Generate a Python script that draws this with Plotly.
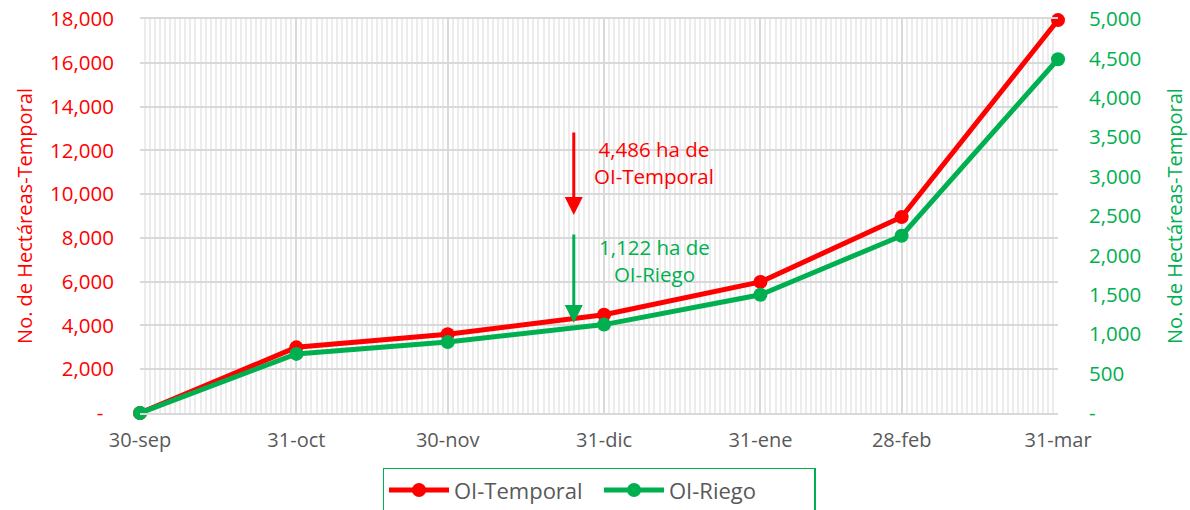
import plotly.graph_objects as go

dates = ["2022-09-30", "2022-10-31", "2022-11-30", "2022-12-31", "2023-01-31", "2023-02-28", "2023-03-31"]
date_labels = ["30-sep", "31-oct", "30-nov", "31-dic", "31-ene", "28-feb", "31-mar"]
temporal = [0, 3000, 3600, 4486, 5990, 8950, 17950]
riego = [0, 750, 900, 1122, 1500, 2250, 4490]

left_ticks = list(range(0, 18001, 2000))
left_text = ["-  "] + [f"{v:,}" for v in left_ticks[1:]]
right_ticks = list(range(0, 5001, 500))
right_text = ["-"] + [f"{v:,}" for v in right_ticks[1:]]

RED = "#FF0000"
GREEN = "#00B050"
GRAY = "#595959"
FONT = "Open Sans"

fig = go.Figure()
fig.add_trace(go.Scatter(x=dates, y=temporal, name="OI-Temporal", mode="lines+markers",
                         line=dict(color=RED, width=5), marker=dict(size=14, color=RED),
                         yaxis="y", cliponaxis=False))
fig.add_trace(go.Scatter(x=dates, y=riego, name="OI-Riego", mode="lines+markers",
                         line=dict(color=GREEN, width=5), marker=dict(size=14, color=GREEN),
                         yaxis="y2", cliponaxis=False))

# arrows
fig.add_annotation(x="2022-12-25", y=9050, ax="2022-12-25", ay=12880, xref="x", yref="y",
                   axref="x", ayref="y", showarrow=True, arrowhead=2, arrowsize=1.2,
                   arrowwidth=3, arrowcolor=RED, text="")
fig.add_annotation(x="2022-12-25", y=4110, ax="2022-12-25", ay=8220, xref="x", yref="y",
                   axref="x", ayref="y", showarrow=True, arrowhead=2, arrowsize=1.2,
                   arrowwidth=3, arrowcolor=GREEN, text="")
fig.add_annotation(x="2023-01-10", y=11450, xref="x", yref="y", showarrow=False,
                   text="4,486 ha de<br>OI-Temporal", font=dict(family=FONT, size=20.5, color=RED),
                   align="center")
fig.add_annotation(x="2023-01-10", y=6970, xref="x", yref="y", showarrow=False,
                   text="1,122 ha de<br>OI-Riego", font=dict(family=FONT, size=20.5, color=GREEN),
                   align="center")

fig.update_layout(
    width=1190, height=510,
    margin=dict(l=140, r=132, t=19, b=97, autoexpand=False),
    paper_bgcolor="white", plot_bgcolor="white",
    font=dict(family=FONT, size=19, color=GRAY),
    showlegend=True,
    legend=dict(orientation="h", x=0.5, xanchor="center", y=-0.139, yanchor="top",
                bordercolor=GREEN, borderwidth=1.5, font=dict(size=22, color=GRAY),
                itemwidth=60, entrywidth=140),
    xaxis=dict(type="date", range=["2022-09-30", "2023-03-31"], automargin=False,
               tickmode="array", tickvals=dates, ticktext=date_labels,
               showgrid=True, gridcolor="#d9d9d9", gridwidth=2,
               minor=dict(dtick=86400000, tick0="2022-09-30", showgrid=True,
                          gridcolor="#ececec", gridwidth=2),
               showline=True, linecolor="#d9d9d9", linewidth=1.5, mirror=True,
               tickfont=dict(size=20, color=GRAY), ticklabelstandoff=8,
               ticklabeloverflow="allow", zeroline=False),
    yaxis=dict(range=[0, 18000], tickmode="array", tickvals=left_ticks, ticktext=left_text,
               automargin=False,
               showgrid=True, gridcolor="#d9d9d9", gridwidth=2,
               tickfont=dict(size=20.5, color=RED), ticklabelstandoff=25,
               ticklabeloverflow="allow",
               title=dict(text="No. de Hectáreas-Temporal", font=dict(size=20, color=RED), standoff=12),
               zeroline=False),
    yaxis2=dict(range=[0, 5000], overlaying="y", side="right", tickmode="array",
                automargin=False,
                tickvals=right_ticks, ticktext=right_text, showgrid=False,
                tickfont=dict(size=20.5, color=GREEN), ticklabelstandoff=30,
                ticklabeloverflow="allow",
                title=dict(text="No. de Hectáreas-Temporal", font=dict(size=20, color=GREEN), standoff=27),
                zeroline=False),
)

fig.write_html("out.html", config={"displayModeBar": False},
               post_script="document.body.style.margin='0px';")
